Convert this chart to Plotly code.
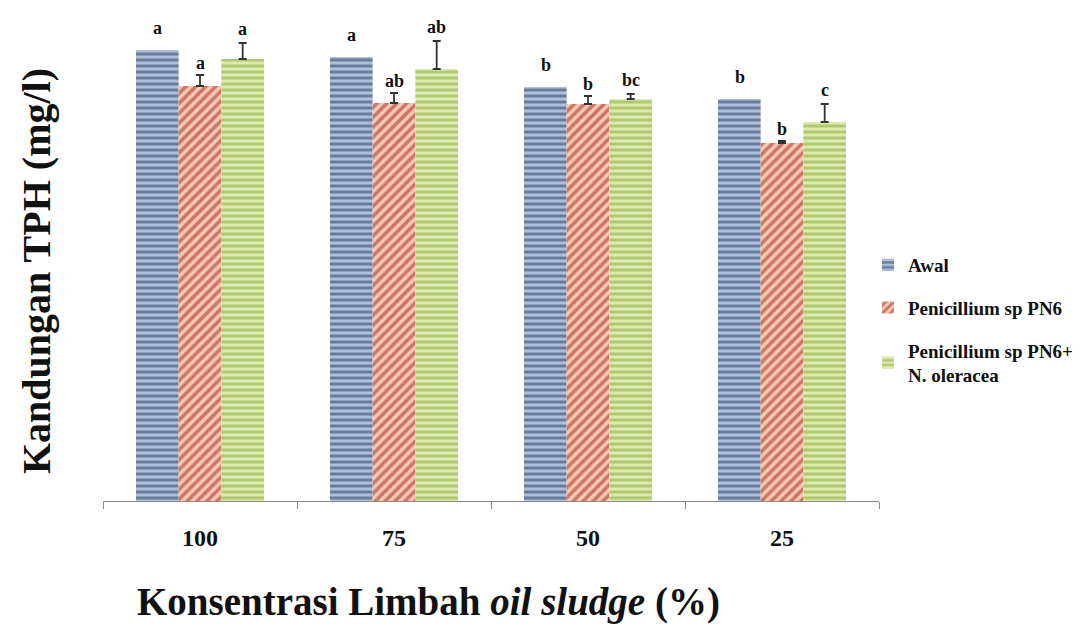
import plotly.graph_objects as go

categories = ["100", "75", "50", "25"]
series_names = ["Awal", "Penicillium sp PN6", "Penicillium sp PN6+<br>N. oleracea"]
awal = [451, 444, 414, 402]
pn6 = [415, 398, 397, 358]
pn6_err = [11, 10, 8, 2]
pn6n = [442, 432, 402, 379]
pn6n_err = [16, 28, 5, 18]
awal_letters = ["a", "a", "b", "b"]
pn6_letters = ["a", "ab", "b", "b"]
pn6n_letters = ["a", "ab", "bc", "c"]

FONT = "Liberation Serif"

styles = [
    dict(fg="#24395c", bg="#aebfda", shape="-", size=6, sol=0.5),
    dict(fg="#9c241b", bg="#fbc8b2", shape="/", size=7, sol=0.5),
    dict(fg="#84a834", bg="#dde9ae", shape="-", size=6, sol=0.5),
]

values = [awal, pn6, pn6n]
errs = [None, pn6_err, pn6n_err]
letters = [awal_letters, pn6_letters, pn6n_letters]
letter_shift = [10, 0, 2]

fig = go.Figure()
for i in range(3):
    st = styles[i]
    kw = {}
    if errs[i] is not None:
        kw["error_y"] = dict(type="data", array=errs[i], arrayminus=[0] * 4,
                             symmetric=False, color="#333333", thickness=1.8, width=4)
    fig.add_trace(go.Bar(
        x=categories, y=values[i], name="<b>%s</b>" % series_names[i], legendgroup=str(i),
        marker=dict(color=st["bg"], line=dict(width=0),
                    pattern=dict(shape=st["shape"], fgcolor=st["fg"], bgcolor=st["bg"],
                                 size=st["size"], solidity=st["sol"], fillmode="overlay")),
        **kw))

annotations = []
for i in range(3):
    for j, c in enumerate(categories):
        top = values[i][j] + (errs[i][j] if errs[i] is not None else 0)
        annotations.append(dict(
            x=j, y=top, xref="x", yref="y", text="<b>%s</b>" % letters[i][j],
            showarrow=False, yanchor="bottom", yshift=letter_shift[i],
            xshift=(i - 1) * 42.5,
            font=dict(family=FONT, size=18, color="#111")))

OFF = 8  # page body margin
L, R, T, B = 103 - OFF, 209 + OFF, 21 - OFF, 126 + OFF
W, H = 1088, 627
pw, ph = W - L - R, H - T - B

def px(x, y):
    # reference page pixel -> paper coordinates
    return (x - OFF - L) / pw, (H - B - (y - OFF)) / ph

tx, ty = px(428, 602)
annotations.append(dict(
    x=tx, y=ty, xref="paper", yref="paper",
    text="<b>Konsentrasi Limbah <i>oil sludge</i> (%)</b>",
    showarrow=False, font=dict(family=FONT, size=39, color="#111"),
    xanchor="center", yanchor="middle"))
yx, yy = px(36, 271)
annotations.append(dict(
    x=yx, y=yy, xref="paper", yref="paper", text="<b>Kandungan TPH (mg/l)</b>", textangle=-90,
    showarrow=False, font=dict(family=FONT, size=40, color="#111"),
    xanchor="center", yanchor="middle"))

lx, ly = px(868, 320)
fig.update_layout(
    width=W, height=H,
    margin=dict(l=L, r=R, t=T, b=B),
    paper_bgcolor="white", plot_bgcolor="white",
    barmode="group", bargap=0.34, bargroupgap=0,
    font=dict(family=FONT, color="#111"),
    showlegend=True,
    legend=dict(x=lx, y=ly, xanchor="left", yanchor="middle",
                font=dict(family=FONT, size=19, color="#111"),
                tracegroupgap=15, itemwidth=30, traceorder="grouped",
                bgcolor="rgba(0,0,0,0)", borderwidth=0),
    annotations=annotations,
)
fig.update_xaxes(type="category", range=[-0.5, 3.5], showline=True, linecolor="#8a8a8a",
                 linewidth=1.2, ticks="outside", tickson="boundaries", ticklen=7,
                 tickcolor="#8a8a8a",
                 tickfont=dict(family=FONT, size=24, color="#111"),
                 tickprefix="<b>", ticksuffix="</b>", ticklabelstandoff=15,
                 showgrid=False)
fig.update_yaxes(range=[0, ph], showticklabels=False, showgrid=False, showline=False,
                 zeroline=False, ticks="")

fig.write_html("out.html")
